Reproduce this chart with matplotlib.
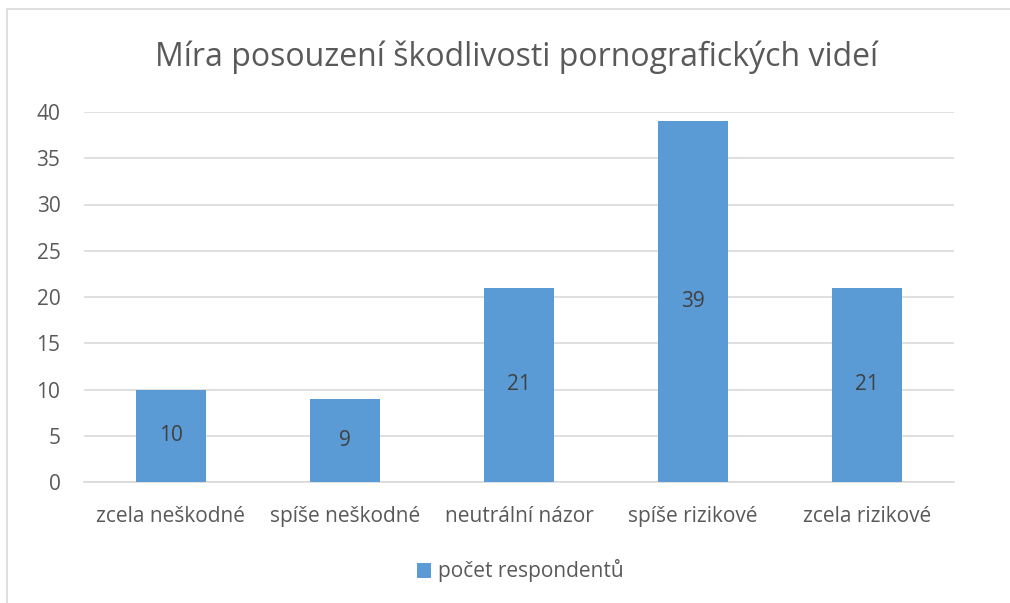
import matplotlib
matplotlib.use("Agg")
import matplotlib.pyplot as plt
from matplotlib.patches import Rectangle

categories = ["zcela neškodné", "spíše neškodné", "neutrální názor", "spíše rizikové", "zcela rizikové"]
values = [10, 9, 21, 39, 21]
series_name = "počet respondentů"
title = "Míra posouzení škodlivosti pornografických videí"
yticks = [0, 5, 10, 15, 20, 25, 30, 35, 40]

plt.rcParams['font.family'] = ['Open Sans', 'DejaVu Sans']
txt = "#595959"
bar_c = "#5b9bd5"
grid_c = "#d9d9d9"

W, H = 1010, 603
fig = plt.figure(figsize=(W / 100, H / 100), dpi=100)
fig.patch.set_facecolor("white")
fig.patches.append(Rectangle((7 / W, -0.1), 1.2, 1 - 9 / H + 0.1, transform=fig.transFigure,
                             fill=False, edgecolor="#d9d9d9", linewidth=1.2))

ax = fig.add_axes([84 / W, 1 - 482 / H, 870 / W, 370 / H])
x = list(range(len(categories)))
bars = ax.bar(x, values, width=0.4, color=bar_c, zorder=3, label=series_name)
ax.set_xlim(-0.5, len(categories) - 0.5)
ax.set_ylim(0, 40)
ax.set_yticks(yticks)
ax.set_xticks(x)
ax.set_xticklabels(categories)
ax.yaxis.grid(True, color=grid_c, linewidth=1.2, zorder=0)
for s in ["top", "right", "left"]:
    ax.spines[s].set_visible(False)
ax.spines["bottom"].set_color(grid_c)
ax.spines["bottom"].set_linewidth(1.2)
ax.tick_params(axis="both", length=0, labelsize=15, colors=txt)
ax.tick_params(axis="y", pad=17)
ax.tick_params(axis="x", pad=17)

for b, v in zip(bars, values):
    ax.text(b.get_x() + b.get_width() / 2, v / 2, str(v), ha="center", va="center",
            fontsize=15, color="#404040", zorder=4)

fig.text(517 / W, 1 - 57 / H, title, ha="center", va="center", fontsize=23, color=txt)
fig.legend(handles=[bars], labels=[series_name], loc="center", bbox_to_anchor=(520 / W, 1 - 571 / H),
           frameon=False, fontsize=15, labelcolor=txt, handlelength=0.7, handleheight=0.7,
           handletextpad=0.3)

fig.savefig("out.png", dpi=100, facecolor="white")
